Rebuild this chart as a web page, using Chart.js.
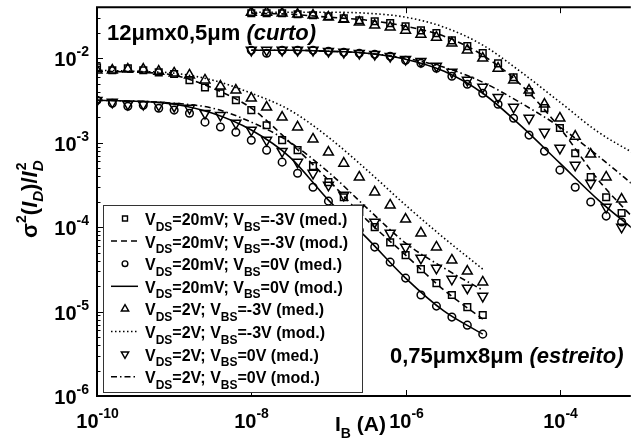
<!DOCTYPE html>
<html>
<head>
<meta charset="utf-8">
<script src="https://cdn.jsdelivr.net/npm/chart.js@4.4.1/dist/chart.umd.min.js"></script>
<style>
html, body { margin: 0; padding: 0; background: #fff; }
</style>
</head>
<body>
<canvas id="chart" width="638" height="448"></canvas>
<script>
// bias current grids (A)
const xNarrow = [1e-10, 1.58e-10, 2.51e-10, 3.98e-10, 6.31e-10, 1e-9, 1.58e-9, 2.51e-9, 3.98e-9, 6.31e-9,
                 1e-8, 1.58e-8, 2.51e-8, 3.98e-8, 6.31e-8, 1e-7, 1.58e-7, 2.51e-7, 3.98e-7, 6.31e-7,
                 1e-6, 1.58e-6, 2.51e-6, 3.98e-6, 6.31e-6, 1e-5];
const xShort = [1e-8, 1.58e-8, 2.51e-8, 3.98e-8, 6.31e-8, 1e-7, 1.58e-7, 2.51e-7, 3.98e-7, 6.31e-7,
                1e-6, 1.58e-6, 2.51e-6, 3.98e-6, 6.31e-6, 1e-5, 1.58e-5, 2.51e-5, 3.98e-5, 6.31e-5,
                1e-4, 1.58e-4, 2.51e-4, 3.98e-4, 6.31e-4];
const xModelNarrow = [1e-10, 3.16e-10, 1e-9, 3.16e-9, 1e-8, 3.16e-8, 1e-7, 3.16e-7, 1e-6, 3.16e-6, 1e-5];
const xModelShort = [1e-8, 3.16e-8, 1e-7, 3.16e-7, 1e-6, 3.16e-6, 1e-5, 3.16e-5, 1e-4, 3.16e-4, 1e-3];

// 0,75um x 8um (estreito) - measured
const narrowSq = [7.8e-3, 7.2e-3, 7.6e-3, 7.2e-3, 6.8e-3, 6.5e-3, 5.5e-3, 4.5e-3, 3.85e-3, 3.18e-3,
                  2.43e-3, 1.61e-3, 1.07e-3, 8.15e-4, 5.27e-4, 3.41e-4, 2.26e-4, 1.51e-4, 1.0e-4, 6.6e-5,
                  4.66e-5, 3.18e-5, 2.17e-5, 1.57e-5, 1.13e-5, 9.1e-6];
const narrowCirc = [3.18e-3, 2.93e-3, 2.70e-3, 2.78e-3, 2.56e-3, 2.43e-3, 2.23e-3, 1.75e-3, 1.53e-3, 1.33e-3,
                    1.07e-3, 8.15e-4, 5.88e-4, 4.35e-4, 2.97e-4, 2.03e-4, 1.35e-4, 9.2e-5, 5.8e-5, 3.85e-5,
                    2.49e-5, 1.57e-5, 1.16e-5, 8.6e-6, 6.9e-6, 5.4e-6];
const narrowTri = [7.2e-3, 7.2e-3, 7.4e-3, 7.4e-3, 7.0e-3, 6.65e-3, 6.3e-3, 5.5e-3, 4.66e-3, 4.18e-3,
                   3.36e-3, 2.63e-3, 2.0e-3, 1.53e-3, 1.10e-3, 7.7e-4, 5.7e-4, 3.9e-4, 2.6e-4, 1.82e-4,
                   1.24e-4, 8.5e-5, 5.8e-5, 4.06e-5, 3.0e-5, 2.23e-5];
const narrowInv = [3.18e-3, 3.02e-3, 2.85e-3, 2.85e-3, 2.78e-3, 2.70e-3, 2.56e-3, 2.23e-3, 2.11e-3, 1.70e-3,
                   1.41e-3, 1.07e-3, 7.9e-4, 5.88e-4, 4.35e-4, 3.14e-4, 2.39e-4, 1.68e-4, 1.15e-4, 8.5e-5,
                   5.8e-5, 4.3e-5, 3.27e-5, 2.42e-5, 1.90e-5, 1.52e-5];

// 12um x 0,5um (curto) - measured
const shortSq = [0.0341, 0.0341, 0.0341, 0.0332, 0.0323, 0.0314, 0.0297, 0.0282, 0.0274, 0.0260,
                 0.0239, 0.0214, 0.0198, 0.0163, 0.0139, 0.0115, 8.7e-3, 5.96e-3, 3.96e-3, 2.56e-3,
                 1.49e-3, 7.5e-4, 3.91e-4, 2.26e-4, 1.47e-4];
const shortCirc = [0.01245, 0.01146, 0.01245, 0.01245, 0.01245, 0.0121, 0.01178, 0.01146, 0.01115, 0.01056,
                   9.47e-3, 8.73e-3, 7.62e-3, 6.12e-3, 4.92e-3, 3.85e-3, 2.85e-3, 1.95e-3, 1.23e-3, 7.9e-4,
                   4.73e-4, 2.97e-4, 1.98e-4, 1.35e-4, 1.15e-4];
const shortTri = [0.0350, 0.0350, 0.0341, 0.0332, 0.0323, 0.0306, 0.0289, 0.0267, 0.0246, 0.0233,
                  0.0214, 0.0192, 0.0177, 0.0151, 0.01245, 0.0100, 7.6e-3, 5.5e-3, 4.18e-3, 2.85e-3,
                  1.95e-3, 1.19e-3, 7.3e-4, 3.91e-4, 2.14e-4];
const shortInv = [0.01245, 0.01245, 0.01245, 0.01245, 0.01245, 0.0121, 0.01178, 0.01146, 0.01115, 0.01056,
                  9.73e-3, 9.21e-3, 8.04e-3, 6.83e-3, 5.49e-3, 4.54e-3, 3.45e-3, 2.63e-3, 1.95e-3, 1.33e-3,
                  8.6e-4, 5.42e-4, 3.32e-4, 1.72e-4, 1.0e-4];

// model curves
const narrowDashed = [7.0e-3, 6.83e-3, 6.3e-3, 4.42e-3, 2.56e-3, 1.01e-3, 3.6e-4, 1.21e-4, 4.66e-5, 1.79e-5, 8.15e-6];
const narrowSolid = [3.18e-3, 3.10e-3, 2.85e-3, 2.23e-3, 1.41e-3, 6.74e-4, 2.09e-4, 7.4e-5, 2.49e-5, 1.01e-5, 5.4e-6];
const narrowDotted = [7.2e-3, 7.0e-3, 6.65e-3, 5.5e-3, 3.85e-3, 2.43e-3, 1.16e-3, 4.73e-4, 1.82e-4, 7.4e-5, 3.18e-5];
const narrowDashDot = [3.18e-3, 3.10e-3, 2.93e-3, 2.56e-3, 1.75e-3, 1.01e-3, 4.48e-4, 1.68e-4, 6.47e-5, 3.27e-5, 1.79e-5];
const shortDashed = [0.0341, 0.0332, 0.0306, 0.0282, 0.0239, 0.0182, 0.01085, 4.8e-3, 1.49e-3, 3.6e-4, 1.15e-4];
const shortSolid = [0.01245, 0.01245, 0.0121, 0.01146, 9.73e-3, 7.0e-3, 3.85e-3, 1.57e-3, 5.72e-4, 2.09e-4, 8.7e-5];
const shortDotted = [0.0350, 0.0350, 0.0350, 0.0341, 0.0306, 0.0233, 0.0143, 6.83e-3, 3.02e-3, 1.33e-3, 7.1e-4];
const shortDashDot = [0.01245, 0.01245, 0.0121, 0.01146, 0.0100, 7.8e-3, 5.2e-3, 2.93e-3, 1.53e-3, 6.9e-4, 2.9e-4];

// axes
const xMin = 1e-10, xMax = 8.3e-4;
const yMin = 1e-6, yMax = 0.0402;
const xTicks = [1e-10, 1e-8, 1e-6, 1e-4];
const xTickExp = ['-10', '-8', '-6', '-4'];
const yTicks = [1e-6, 1e-5, 1e-4, 1e-3, 1e-2];
const yTickExp = ['-6', '-5', '-4', '-3', '-2'];

const legendRows = [
    { kind: 'rect', vds: '20mV', vbs: '-3V', tag: '(med.)' },
    { kind: 'dashed', vds: '20mV', vbs: '-3V', tag: '(mod.)' },
    { kind: 'circle', vds: '20mV', vbs: '0V', tag: '(med.)' },
    { kind: 'solid', vds: '20mV', vbs: '0V', tag: '(mod.)' },
    { kind: 'triangle', vds: '2V', vbs: '-3V', tag: '(med.)' },
    { kind: 'dotted', vds: '2V', vbs: '-3V', tag: '(mod.)' },
    { kind: 'inv', vds: '2V', vbs: '0V', tag: '(med.)' },
    { kind: 'dashdot', vds: '2V', vbs: '0V', tag: '(mod.)' }
];

const FAM = '"Liberation Sans", Arial, sans-serif';
const dashes = { solid: [], dashed: [6, 4], dotted: [1.5, 2.5], dashdot: [6, 3, 1.5, 3] };
const marks = {
    rect: { style: 'rect', r: 4.7, rot: 0 },
    circle: { style: 'circle', r: 3.8, rot: 0 },
    triangle: { style: 'triangle', r: 5.7, rot: 0 },
    inv: { style: 'triangle', r: 5.7, rot: 180 }
};

function pts(xs, ys) {
    return xs.map((x, i) => ({ x: x, y: ys[i] }));
}

function measured(xs, ys, kind) {
    const m = marks[kind];
    return {
        data: pts(xs, ys),
        showLine: false,
        pointStyle: m.style,
        pointRadius: m.r,
        pointRotation: m.rot,
        pointBorderColor: '#000',
        pointBackgroundColor: 'rgba(0,0,0,0)',
        pointBorderWidth: 1.5,
        borderColor: '#000'
    };
}

function model(xs, ys, kind) {
    return {
        data: pts(xs, ys),
        pointRadius: 0,
        borderColor: '#000',
        borderWidth: 1.6,
        borderDash: dashes[kind],
        cubicInterpolationMode: 'monotone',
        fill: false
    };
}

function font(px, italic) {
    return (italic ? 'italic ' : '') + 'bold ' + px + 'px ' + FAM;
}

// runs: [text, size, dy, italic]
function drawRuns(ctx, x, y, runs) {
    runs.forEach(r => {
        ctx.font = font(r[1], r[3]);
        ctx.fillText(r[0], x, y + r[2]);
        x += ctx.measureText(r[0]).width;
    });
    return x;
}

function runsWidth(ctx, runs) {
    let w = 0;
    runs.forEach(r => {
        ctx.font = font(r[1], r[3]);
        w += ctx.measureText(r[0]).width;
    });
    return w;
}

function seg(ctx, x1, y1, x2, y2) {
    ctx.beginPath();
    ctx.moveTo(x1, y1);
    ctx.lineTo(x2, y2);
    ctx.stroke();
}

const decorations = {
    id: 'decorations',
    afterDraw(chart) {
        const ctx = chart.ctx;
        const a = chart.chartArea;
        const sx = chart.scales.x, sy = chart.scales.y;
        ctx.save();
        ctx.strokeStyle = '#000';
        ctx.fillStyle = '#000';
        ctx.textBaseline = 'alphabetic';

        // frame (no right border, plot is cut at the right)
        ctx.lineWidth = 2;
        ctx.beginPath();
        ctx.moveTo(a.right, a.top);
        ctx.lineTo(a.left, a.top);
        ctx.lineTo(a.left, a.bottom);
        ctx.lineTo(a.right, a.bottom);
        ctx.stroke();

        // y ticks, major + minor, pointing inward
        ctx.lineWidth = 1;
        yTicks.forEach((v, i) => {
            const p = Math.round(sy.getPixelForValue(v)) + 0.5;
            seg(ctx, a.left, p, a.left + 6, p);
            for (let m = 2; m <= 9; m++) {
                const q = Math.round(sy.getPixelForValue(v * m)) + 0.5;
                if (q > a.top) seg(ctx, a.left, q, a.left + 3.5, q);
            }
            const runs = [['10', 20, 0], [yTickExp[i], 14, -10]];
            const w = runsWidth(ctx, runs);
            drawRuns(ctx, 89 - w, p + 7, runs);
        });

        // x ticks top and bottom
        xTicks.forEach((v, i) => {
            const p = Math.round(sx.getPixelForValue(v)) + 0.5;
            seg(ctx, p, a.bottom, p, a.bottom - 6);
            seg(ctx, p, a.top, p, a.top + 6);
            const runs = [['10', 20, 0], [xTickExp[i], 14, -10]];
            const w = runsWidth(ctx, runs);
            drawRuns(ctx, p - w / 2, 428, runs);
        });

        // axis titles
        drawRuns(ctx, 335, 431, [['I', 21, 0], ['B', 14, 7], [' (A)', 21, 0]]);

        ctx.save();
        ctx.translate(37, 238);
        ctx.rotate(-Math.PI / 2);
        let tx = drawRuns(ctx, 0, 0, [['σ', 22, 0], ['2', 14, -11], ['(', 22, 0], ['I', 22, 0, true],
                                        ['D', 15, 6, true], [')/', 22, 0], ['I', 22, 0, true]]);
        ctx.font = font(14);
        ctx.fillText('2', tx + 1, -11);
        ctx.font = font(15, true);
        ctx.fillText('D', tx, 6);
        ctx.restore();

        // device annotations
        drawRuns(ctx, 107, 40, [['12μmx0,5μm ', 22, 0], ['(curto)', 22, 0, true]]);
        drawRuns(ctx, 390, 363, [['0,75μmx8μm ', 22, 0], ['(estreito)', 22, 0, true]]);

        // legend box
        const lx = 103.5, ly = 205.5, lw = 259, lh = 187;
        ctx.fillStyle = '#fff';
        ctx.fillRect(lx, ly, lw, lh);
        ctx.strokeStyle = '#333';
        ctx.lineWidth = 1;
        ctx.strokeRect(lx, ly, lw, lh);
        ctx.strokeStyle = '#000';
        ctx.fillStyle = '#000';
        legendRows.forEach((row, i) => {
            const cy = 218.5 + i * 22.6;
            if (marks[row.kind]) {
                const m = marks[row.kind];
                ctx.fillStyle = 'rgba(0,0,0,0)';
                ctx.lineWidth = 1.4;
                Chart.helpers.drawPoint(ctx, { pointStyle: m.style, radius: m.r * 0.75, rotation: m.rot, borderWidth: 1.4 }, 125, cy);
                ctx.fillStyle = '#000';
            } else {
                ctx.lineWidth = 1.5;
                ctx.setLineDash(dashes[row.kind]);
                seg(ctx, 111, cy, 138, cy);
                ctx.setLineDash([]);
            }
            drawRuns(ctx, 145, cy + 6.5, [['V', 16, 0], ['DS', 12, 5.5], ['=' + row.vds + '; V', 16, 0],
                                           ['BS', 12, 5.5], ['=' + row.vbs + ' ' + row.tag, 16, 0]]);
        });
        ctx.restore();
    }
};

new Chart(document.getElementById('chart'), {
    type: 'line',
    data: {
        datasets: [
            measured(xNarrow, narrowSq, 'rect'),
            measured(xShort, shortSq, 'rect'),
            measured(xNarrow, narrowCirc, 'circle'),
            measured(xShort, shortCirc, 'circle'),
            measured(xNarrow, narrowTri, 'triangle'),
            measured(xShort, shortTri, 'triangle'),
            measured(xNarrow, narrowInv, 'inv'),
            measured(xShort, shortInv, 'inv'),
            model(xModelNarrow, narrowDashed, 'dashed'),
            model(xModelShort, shortDashed, 'dashed'),
            model(xModelNarrow, narrowSolid, 'solid'),
            model(xModelShort, shortSolid, 'solid'),
            model(xModelNarrow, narrowDotted, 'dotted'),
            model(xModelShort, shortDotted, 'dotted'),
            model(xModelNarrow, narrowDashDot, 'dashdot'),
            model(xModelShort, shortDashDot, 'dashdot')
        ]
    },
    options: {
        responsive: false,
        animation: false,
        devicePixelRatio: 1,
        layout: { padding: { left: 97, top: 7, right: 0, bottom: 52 } },
        plugins: {
            legend: { display: false },
            tooltip: { enabled: false }
        },
        scales: {
            x: { type: 'logarithmic', min: xMin, max: xMax, display: false },
            y: { type: 'logarithmic', min: yMin, max: yMax, display: false }
        }
    },
    plugins: [decorations]
});
</script>
</body>
</html>
